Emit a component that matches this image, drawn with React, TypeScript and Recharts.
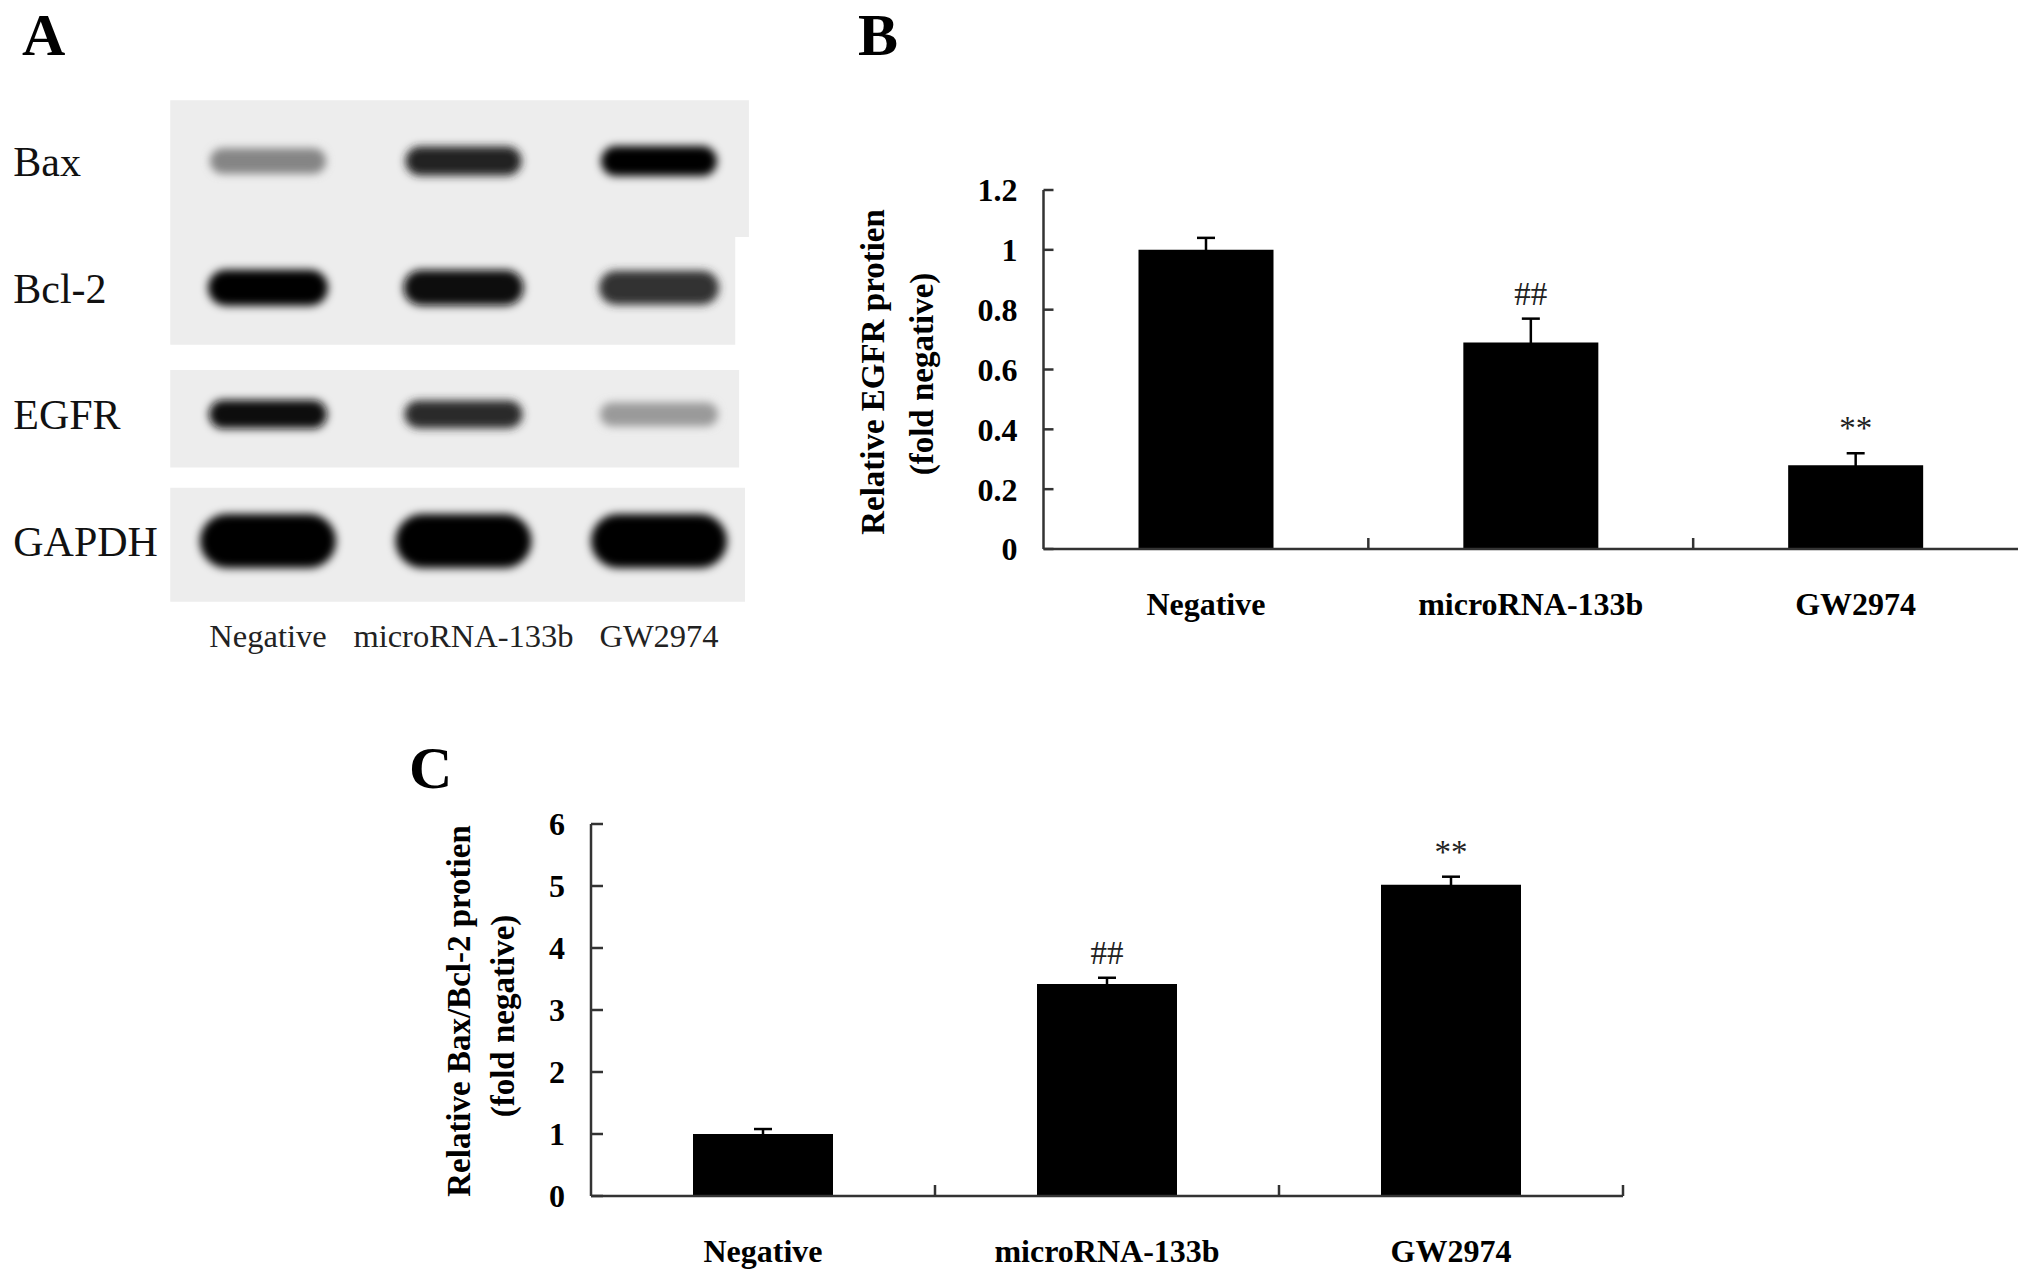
import React from "react";
import {
  BarChart,
  Bar,
  XAxis,
  YAxis,
  ErrorBar,
  LabelList,
  ScatterChart,
  Scatter,
  ReferenceArea,
} from "recharts";

const SERIF = '"Liberation Serif", "Times New Roman", Times, serif';
const AXIS = "#333";

// treatment groups, shared by all three panels
const GROUPS = ["Negative", "microRNA-133b", "GW2974"];

// panel B: relative EGFR protein (fold negative)
const EGFR_MEAN = [1.0, 0.69, 0.28];
const EGFR_SD = [0.04, 0.08, 0.04];
const EGFR_MARK = ["", "##", "**"];
const EGFR_TICKS = [0, 0.2, 0.4, 0.6, 0.8, 1, 1.2];

// panel C: relative Bax/Bcl-2 protein (fold negative)
const RATIO_MEAN = [1.0, 3.42, 5.02];
const RATIO_SD = [0.08, 0.1, 0.13];
const RATIO_MARK = ["", "##", "**"];
const RATIO_TICKS = [0, 1, 2, 3, 4, 5, 6];

// panel A: western blot, band darkness per lane (0 = none, 1 = saturated)
const PROTEINS = ["Bax", "Bcl-2", "EGFR", "GAPDH"];
const BAX_BAND = [0.45, 0.88, 1];
const BCL2_BAND = [1, 0.96, 0.8];
const EGFR_BAND = [0.95, 0.84, 0.36];
const GAPDH_BAND = [1, 1, 1];

type BarRow = { group: string; pos: number; mean: number; sd: number; mark: string };

const toRows = (mean: number[], sd: number[], mark: string[]): BarRow[] =>
  GROUPS.map((g, i) => ({ group: g, pos: i + 0.5, mean: mean[i], sd: sd[i], mark: mark[i] }));

const egfrRows = toRows(EGFR_MEAN, EGFR_SD, EGFR_MARK);
const ratioRows = toRows(RATIO_MEAN, RATIO_SD, RATIO_MARK);

const blotRows = [BAX_BAND, BCL2_BAND, EGFR_BAND, GAPDH_BAND].flatMap((levels, row) =>
  levels.map((level, lane) => ({ lane, row, level, protein: PROTEINS[row] }))
);

const LABEL_GAP = 43;

// category label at half steps, small upward tick at category boundaries
const groupTick = (edges: number[]) => (props: any) => {
  const { x, y, payload } = props;
  const v = payload.value as number;
  if (Number.isInteger(v)) {
    if (!edges.includes(v)) return <g />;
    const axisY = y - LABEL_GAP;
    return <line x1={x} x2={x} y1={axisY} y2={axisY - 11} stroke={AXIS} strokeWidth={2.5} />;
  }
  return (
    <text
      x={x}
      y={y}
      dy="0.71em"
      textAnchor="middle"
      fontFamily={SERIF}
      fontWeight={700}
      fontSize={32}
      fill="#000"
    >
      {GROUPS[Math.floor(v)]}
    </text>
  );
};

// significance marks sit a little above the error cap
const markLabel = (rows: BarRow[]) => (props: any) => {
  const { value } = props;
  if (!value) return null;
  const vb = props.viewBox ?? props;
  const row = rows.find((r) => r.mark === value);
  if (!row) return null;
  const unit = vb.height / row.mean;
  const capY = vb.y - row.sd * unit;
  return (
    <text
      x={vb.x + vb.width / 2}
      y={capY - 14}
      textAnchor="middle"
      fontFamily={SERIF}
      fontSize={33}
      fill="#222"
    >
      {value}
    </text>
  );
};

const yTick = { fill: "#000", fontSize: 32, fontWeight: 700, fontFamily: SERIF };

const BAND_SIZE: Record<string, { w: number; h: number }> = {
  Bax: { w: 116, h: 30 },
  "Bcl-2": { w: 120, h: 36 },
  EGFR: { w: 118, h: 29 },
  GAPDH: { w: 136, h: 54 },
};

const GelBand = (props: any) => {
  const { cx, cy, payload } = props;
  const size = BAND_SIZE[payload.protein];
  const h = size.h * (0.72 + 0.28 * payload.level);
  const g = Math.round(238 - 234 * payload.level);
  const id = `band-blur-${payload.row}-${payload.lane}`;
  return (
    <g>
      <defs>
        <filter id={id} x="-20%" y="-80%" width="140%" height="260%">
          <feGaussianBlur stdDeviation={4.2} />
        </filter>
      </defs>
      <rect
        x={cx - size.w / 2}
        y={cy - h / 2}
        width={size.w}
        height={h}
        rx={h / 2}
        fill={`rgb(${g},${g},${g})`}
        filter={`url(#${id})`}
      />
    </g>
  );
};

// membrane strips behind the bands (in lane / row units)
const GEL_STRIPS = [
  { x2: 2.46, y1: -0.48, y2: 0.6 },
  { x2: 2.39, y1: 0.6, y2: 1.45 },
  { x2: 2.41, y1: 1.65, y2: 2.42 },
  { x2: 2.44, y1: 2.58, y2: 3.48 },
];

const BlotPanel = () => (
  <ScatterChart width={780} height={680} margin={{ top: 97.7, right: 23.25, bottom: 15.7, left: 0 }}>
    <XAxis
      type="number"
      dataKey="lane"
      domain={[-0.5, 2.5]}
      ticks={[0, 1, 2]}
      interval={0}
      tickFormatter={(v) => GROUPS[v]}
      axisLine={false}
      tickLine={false}
      tickSize={0}
      tickMargin={20}
      height={60}
      tick={{ fill: "#222", fontSize: 32.5, fontFamily: SERIF }}
    />
    <YAxis
      type="number"
      dataKey="row"
      domain={[-0.5, 3.5]}
      reversed
      ticks={[0, 1, 2, 3]}
      interval={0}
      tickFormatter={(v) => PROTEINS[v]}
      axisLine={false}
      tickLine={false}
      tickSize={0}
      tickMargin={157}
      width={170.25}
      tick={{ fill: "#111", fontSize: 42, fontFamily: SERIF, textAnchor: "start" }}
    />
    {GEL_STRIPS.map((s, i) => (
      <ReferenceArea
        key={i}
        x1={-0.5}
        x2={s.x2}
        y1={s.y1}
        y2={s.y2}
        fill="#ededed"
        fillOpacity={1}
        stroke="none"
      />
    ))}
    <Scatter data={blotRows} shape={GelBand} isAnimationActive={false} />
  </ScatterChart>
);

type PanelProps = {
  rows: BarRow[];
  ticks: number[];
  max: number;
  width: number;
  height: number;
  margin: { top: number; right: number; bottom: number; left: number };
  barSize: number;
  edges: number[];
  tickLen: number;
};

const BarPanel = ({ rows, ticks, max, width, height, margin, barSize, edges, tickLen }: PanelProps) => {
  const xTicks = [0.5, 1, 1.5, 2, 2.5, 3];
  return (
    <BarChart width={width} height={height} data={rows} margin={margin}>
      <XAxis
        type="number"
        dataKey="pos"
        domain={[0, 3]}
        ticks={xTicks}
        interval={0}
        axisLine={{ stroke: AXIS, strokeWidth: 2.5 }}
        tickLine={false}
        tickSize={0}
        tickMargin={LABEL_GAP}
        height={80}
        tick={groupTick(edges)}
      />
      <YAxis
        type="number"
        domain={[0, max]}
        ticks={ticks}
        interval={0}
        axisLine={{ stroke: AXIS, strokeWidth: 2.5 }}
        tickLine={{ stroke: AXIS, strokeWidth: 2.5 }}
        tickSize={-tickLen}
        tickMargin={tickLen + 26}
        width={60}
        tick={yTick}
      />
      <Bar dataKey="mean" fill="#000" barSize={barSize} isAnimationActive={false}>
        <ErrorBar dataKey="sd" width={9} stroke="#000" strokeWidth={2.5} direction="y" isAnimationActive={false} />
        <LabelList dataKey="mark" content={markLabel(rows)} />
      </Bar>
    </BarChart>
  );
};

const titleStyle = { fontFamily: SERIF, fontWeight: 700, fontSize: 33, fill: "#000" };

const App = () => (
  <div
    style={{
      position: "absolute",
      left: 0,
      top: 0,
      width: 2031,
      height: 1281,
      background: "#fff",
      overflow: "hidden",
    }}
  >
    <div style={{ position: "absolute", left: 0, top: 0 }}>
      <BlotPanel />
    </div>

    <div style={{ position: "absolute", left: 840, top: 150 }}>
      <BarPanel
        rows={egfrRows}
        ticks={EGFR_TICKS}
        max={1.2}
        width={1191}
        height={480}
        margin={{ top: 40, right: 13, bottom: 1, left: 143.5 }}
        barSize={135}
        edges={[1, 2]}
        tickLen={10}
      />
    </div>

    <div style={{ position: "absolute", left: 380, top: 780 }}>
      <BarPanel
        rows={ratioRows}
        ticks={RATIO_TICKS}
        max={6}
        width={1250}
        height={500}
        margin={{ top: 44, right: 7, bottom: 4, left: 151 }}
        barSize={140}
        edges={[1, 2, 3]}
        tickLen={12}
      />
    </div>

    <svg
      width={2031}
      height={1281}
      style={{ position: "absolute", left: 0, top: 0, pointerEvents: "none" }}
    >
      <g fontFamily={SERIF} fontWeight={700} fontSize={60} fill="#000">
        <text x={22} y={55}>A</text>
        <text x={858} y={55}>B</text>
        <text x={409} y={788}>C</text>
      </g>
      <text {...titleStyle} x={884} y={372} textAnchor="middle" transform="rotate(-90 884 372)">
        Relative EGFR protien
      </text>
      <text {...titleStyle} x={933} y={374} textAnchor="middle" transform="rotate(-90 933 374)">
        (fold negative)
      </text>
      <text {...titleStyle} x={470} y={1011} textAnchor="middle" transform="rotate(-90 470 1011)">
        Relative Bax/Bcl-2 protien
      </text>
      <text {...titleStyle} x={514} y={1016} textAnchor="middle" transform="rotate(-90 514 1016)">
        (fold negative)
      </text>
    </svg>
  </div>
);

export default App;
